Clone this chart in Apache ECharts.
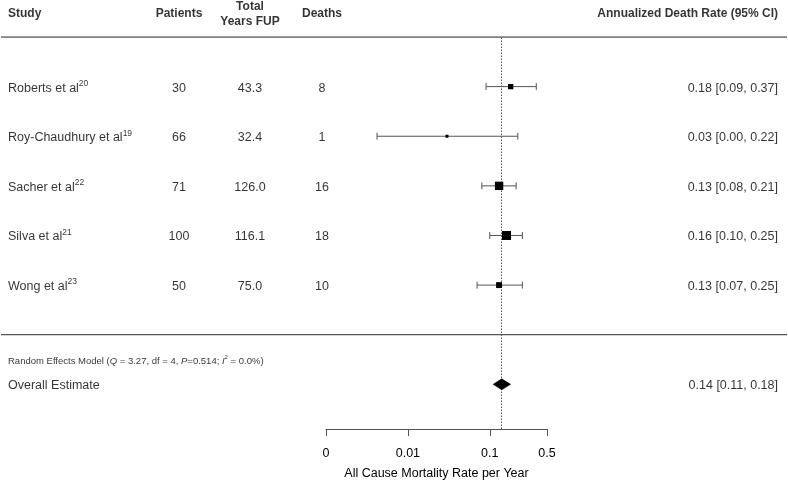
<!DOCTYPE html>
<html>
<head>
<meta charset="utf-8">
<script src="https://cdn.jsdelivr.net/npm/echarts@6/dist/echarts.min.js"></script>
<style>
  html, body { margin: 0; padding: 0; background: #fff; }
  #chart { width: 788px; height: 482px; }
</style>
</head>
<body>
<div id="chart"></div>
<script>
// study rows (top to bottom)
const studies = ['Roberts et al', 'Roy-Chaudhury et al', 'Sacher et al', 'Silva et al', 'Wong et al'];
const refs = ['20', '19', '22', '21', '23'];
const patients = [30, 66, 71, 100, 50];
const yearsFup = ['43.3', '32.4', '126.0', '116.1', '75.0'];
const deaths = [8, 1, 16, 18, 10];
const rate = [0.18, 0.03, 0.13, 0.16, 0.13];
const lower = [0.09, 0.0042, 0.08, 0.10, 0.07];
const upper = [0.37, 0.22, 0.21, 0.25, 0.25];
const rateText = ['0.18 [0.09, 0.37]', '0.03 [0.00, 0.22]', '0.13 [0.08, 0.21]', '0.16 [0.10, 0.25]', '0.13 [0.07, 0.25]'];

// pooled estimate
const overall = { est: 0.14, lo: 0.11, hi: 0.18, text: '0.14 [0.11, 0.18]' };

// x axis ticks
const xTicks = [0.001, 0.01, 0.1, 0.5];
const xTickLabels = { 0.001: '0', 0.01: '0.01', 0.1: '0.1', 0.5: '0.5' };

// row positions on the hidden y axis
const rowY = [7, 6, 5, 4, 3];
const overallY = 1;
const reY = 1.5;
const headerY = 8.5;

// column anchors (px across the full width table grid)
const col = { study: 8, patients: 179, fup: 250, deaths: 322, rate: 778 };

const font = 'Liberation Sans, Arial, sans-serif';

// box size from inverse-variance weight (log scale), scaled linearly 3..9 px
const w = lower.map((lo, i) => {
  const se = (Math.log(upper[i]) - Math.log(lo)) / 3.92;
  return 1 / (se * se);
});
const wMin = Math.min(...w), wMax = Math.max(...w);
const boxSize = w.map(v => 3 + (v - wMin) / (wMax - wMin) * 6);

const chart = echarts.init(document.getElementById('chart'));

function textSeries(data, position, fontSize, weight, lineHeight) {
  return {
    type: 'scatter',
    xAxisIndex: 1,
    yAxisIndex: 1,
    symbolSize: 0,
    clip: false,
    silent: true,
    data: data,
    label: {
      show: true,
      position: position,
      distance: 0,
      offset: [0, 1.5],
      color: '#000',
      fontFamily: font,
      fontSize: fontSize,
      fontWeight: weight || 'normal',
      lineHeight: lineHeight,
      formatter: p => p.data[2],
      rich: {
        sup: { fontSize: 8.5, verticalAlign: 'bottom', padding: [0, 0, 9, 0], fontFamily: font, color: '#000' },
        it: { fontStyle: 'italic', fontSize: fontSize, fontFamily: font, color: '#000' },
        isup: { fontSize: 6, padding: [0, 0, 7, 0], fontFamily: font, color: '#000' }
      }
    }
  };
}

chart.setOption({
  animation: false,
  backgroundColor: '#fff',
  grid: [
    { left: 326, right: 241, top: 37, bottom: 53, outerBoundsMode: 'none', containLabel: false },
    { left: 0, right: 0, top: 37, bottom: 53, outerBoundsMode: 'none', containLabel: false }
  ],
  xAxis: [
    {
      type: 'log',
      gridIndex: 0,
      min: 0.001,
      max: 0.5,
      logBase: 10,
      name: 'All Cause Mortality Rate per Year',
      nameLocation: 'middle',
      nameGap: 38,
      nameTextStyle: { color: '#000', fontSize: 12.5, fontFamily: font },
      axisLine: { show: true, lineStyle: { color: '#555', width: 1 } },
      axisTick: { show: true, length: 7, lineStyle: { color: '#555' } },
      axisLabel: {
        show: true, margin: 18, color: '#000', fontSize: 12.5, fontFamily: font,
        showMinLabel: true, showMaxLabel: true,
        formatter: v => {
          const k = xTicks.find(t => Math.abs(t - v) / t < 1e-6);
          return k !== undefined ? xTickLabels[k] : '';
        }
      },
      splitLine: { show: false },
      minorTick: { show: false }
    },
    { type: 'value', gridIndex: 1, min: 0, max: 788, show: false }
  ],
  yAxis: [
    { type: 'value', gridIndex: 0, min: 0.1, max: 8, show: false },
    { type: 'value', gridIndex: 1, min: 0.1, max: 8, show: false }
  ],
  series: [
    // horizontal rules
    {
      type: 'line', xAxisIndex: 1, yAxisIndex: 1, symbol: 'none', silent: true,
      lineStyle: { color: '#555', width: 1.3 },
      data: [[1, 8], [787, 8]]
    },
    {
      type: 'line', xAxisIndex: 1, yAxisIndex: 1, symbol: 'none', silent: true,
      lineStyle: { color: '#555', width: 1.3 },
      data: [[1, 2], [787, 2]]
    },
    // confidence intervals with end caps
    {
      type: 'custom',
      xAxisIndex: 0, yAxisIndex: 0,
      silent: true,
      data: rowY.map((y, i) => [lower[i], upper[i], y]),
      renderItem: (params, api) => {
        const a = api.coord([api.value(0), api.value(2)]);
        const b = api.coord([api.value(1), api.value(2)]);
        const h = 3.5;
        const style = { stroke: '#555', lineWidth: 1 };
        return {
          type: 'group',
          children: [
            { type: 'line', shape: { x1: a[0], y1: a[1], x2: b[0], y2: b[1] }, style: style },
            { type: 'line', shape: { x1: a[0], y1: a[1] - h, x2: a[0], y2: a[1] + h }, style: style },
            { type: 'line', shape: { x1: b[0], y1: b[1] - h, x2: b[0], y2: b[1] + h }, style: style }
          ]
        };
      }
    },
    // point estimates
    {
      type: 'scatter',
      xAxisIndex: 0, yAxisIndex: 0,
      symbol: 'rect',
      silent: true,
      z: 4,
      itemStyle: { color: '#000', opacity: 1 },
      data: rate.map((r, i) => ({ value: [r, rowY[i]], symbolSize: boxSize[i] })),
      markLine: {
        silent: true,
        symbol: 'none',
        z: 1,
        label: { show: false },
        lineStyle: { color: '#555', type: [1.5, 1.5], width: 1 },
        data: [{ xAxis: overall.est }]
      }
    },
    // pooled diamond
    {
      type: 'custom',
      xAxisIndex: 0, yAxisIndex: 0,
      silent: true,
      z: 6,
      data: [[overall.lo, overall.est, overall.hi, overallY]],
      renderItem: (params, api) => {
        const l = api.coord([api.value(0), api.value(3)]);
        const c = api.coord([api.value(1), api.value(3)]);
        const r = api.coord([api.value(2), api.value(3)]);
        const h = 5.5;
        return {
          type: 'polygon',
          shape: { points: [[l[0], l[1]], [c[0], c[1] - h], [r[0], r[1]], [c[0], c[1] + h]] },
          style: { fill: '#000', stroke: '#000', lineWidth: 0.5 }
        };
      }
    },
    // header
    textSeries([[col.study, headerY, 'Study']], 'right', 12, 'bold'),
    textSeries([
      [col.patients, headerY, 'Patients'],
      [col.fup, headerY, 'Total\nYears FUP'],
      [col.deaths, headerY, 'Deaths']
    ], 'inside', 12, 'bold', 15),
    textSeries([[col.rate, headerY, 'Annualized Death Rate (95% CI)']], 'left', 12, 'bold'),
    // study names with superscript refs
    textSeries(studies.map((s, i) => [col.study, rowY[i], s + '{sup|' + refs[i] + '}']), 'right', 12.5),
    textSeries(patients.map((p, i) => [col.patients, rowY[i], String(p)]), 'inside', 12.5),
    textSeries(yearsFup.map((p, i) => [col.fup, rowY[i], p]), 'inside', 12.5),
    textSeries(deaths.map((p, i) => [col.deaths, rowY[i], String(p)]), 'inside', 12.5),
    textSeries(rateText.map((t, i) => [col.rate, rowY[i], t]), 'left', 12.5),
    // pooled rows
    textSeries([[col.study, reY,
      'Random Effects Model ({it|Q} = 3.27, df = 4, {it|P}=0.514; {it|I}{isup|2} = 0.0%)']], 'right', 9.5),
    textSeries([[col.study, overallY, 'Overall Estimate']], 'right', 12.5),
    textSeries([[col.rate, overallY, overall.text]], 'left', 12.5)
  ]
});
</script>
</body>
</html>
